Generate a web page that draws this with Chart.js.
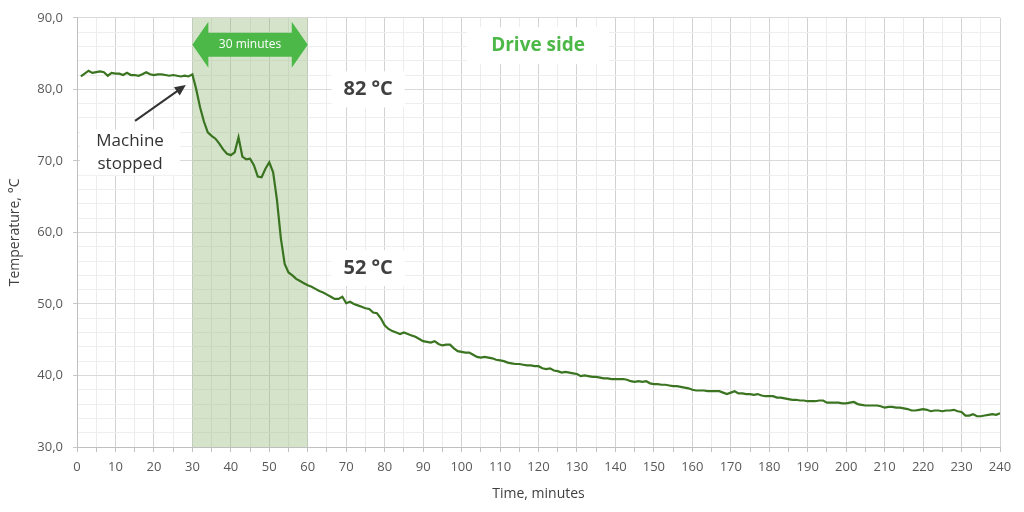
<!DOCTYPE html>
<html>
<head>
<meta charset="utf-8">
<script src="https://cdn.jsdelivr.net/npm/chart.js@4.4.1/dist/chart.umd.min.js"></script>
<style>
  html, body { margin: 0; padding: 0; background: #fff; }
  #c { display: block; }
</style>
</head>
<body>
<canvas id="c" width="1024" height="512"></canvas>
<script>
// minutes 1..240
const minutes = [];
for (let m = 1; m <= 240; m++) minutes.push(m);

// drive side temperature, °C
const temps = [
  81.8, 82.2, 82.6, 82.3, 82.4, 82.5, 82.4, 81.9, 82.3, 82.2,
  82.2, 82.0, 82.3, 82.0, 82.0, 81.9, 82.1, 82.4, 82.1, 82.0,
  82.1, 82.1, 82.0, 81.9, 82.0, 81.9, 81.8, 81.9, 81.8, 82.1,
  80.0, 77.5, 75.5, 74.0, 73.5, 73.1, 72.4, 71.6, 71.0, 70.8,
  71.2, 73.3, 70.6, 70.2, 70.3, 69.4, 67.8, 67.7, 68.9, 69.8,
  68.4, 64.5, 59.2, 55.6, 54.4, 54.0, 53.5, 53.2, 52.9, 52.6,
  52.4, 52.1, 51.8, 51.6, 51.3, 51.0, 50.7, 50.7, 51.0, 50.1,
  50.3, 50.0, 49.8, 49.6, 49.4, 49.3, 48.8, 48.7, 48.0, 47.0,
  46.5, 46.2, 46.0, 45.8, 46.0, 45.8, 45.6, 45.4, 45.1, 44.8,
  44.7, 44.6, 44.8, 44.4, 44.2, 44.3, 44.3, 43.8, 43.4, 43.3,
  43.2, 43.2, 42.9, 42.6, 42.5, 42.6, 42.5, 42.4, 42.2, 42.1,
  42.0, 41.8, 41.7, 41.6, 41.6, 41.5, 41.4, 41.4, 41.3, 41.3,
  41.0, 40.9, 41.0, 40.7, 40.6, 40.4, 40.5, 40.4, 40.3, 40.2,
  39.9, 40.0, 39.9, 39.8, 39.8, 39.7, 39.6, 39.6, 39.5, 39.5,
  39.5, 39.5, 39.4, 39.2, 39.1, 39.2, 39.1, 39.2, 38.9, 38.8,
  38.8, 38.7, 38.7, 38.6, 38.5, 38.5, 38.4, 38.3, 38.2, 38.0,
  37.9, 37.9, 37.9, 37.8, 37.8, 37.8, 37.8, 37.6, 37.4, 37.6,
  37.8, 37.5, 37.5, 37.4, 37.4, 37.3, 37.4, 37.2, 37.1, 37.1,
  37.1, 36.9, 36.9, 36.8, 36.7, 36.6, 36.6, 36.5, 36.5, 36.4,
  36.4, 36.4, 36.5, 36.5, 36.2, 36.2, 36.2, 36.2, 36.1, 36.1,
  36.2, 36.3, 36.0, 35.9, 35.8, 35.8, 35.8, 35.8, 35.7, 35.5,
  35.6, 35.6, 35.5, 35.5, 35.4, 35.3, 35.1, 35.1, 35.2, 35.3,
  35.2, 35.0, 35.1, 35.1, 35.0, 35.1, 35.1, 35.2, 35.0, 34.9,
  34.4, 34.4, 34.6, 34.3, 34.3, 34.4, 34.5, 34.6, 34.5, 34.7
];

// shaded window after the stop
const windowStart = 30;
const windowEnd = 60;

const FONT = '"Open Sans", "Noto Sans", sans-serif';
const lineGreen = '#3a7420';
const brightGreen = '#4cb848';
const darkText = '#404040';

function textBox(ctx, text, px, py, font, color, padX, padY) {
  ctx.font = font;
  const w = ctx.measureText(text).width;
  const h = parseInt(font.match(/(\d+)px/)[1], 10);
  ctx.fillStyle = '#fff';
  ctx.fillRect(px - w / 2 - padX, py - h / 2 - padY, w + padX * 2, h + padY * 2);
  ctx.fillStyle = color;
  ctx.textAlign = 'center';
  ctx.textBaseline = 'middle';
  ctx.fillText(text, px, py);
}

const shadePlugin = {
  id: 'shade',
  beforeDatasetsDraw(chart) {
    const { ctx, chartArea, scales } = chart;
    const x0 = scales.x.getPixelForValue(windowStart);
    const x1 = scales.x.getPixelForValue(windowEnd);
    ctx.save();
    ctx.fillStyle = 'rgba(150,185,125,0.4)';
    ctx.fillRect(x0, chartArea.top, x1 - x0, chartArea.bottom - chartArea.top);
    ctx.restore();
  }
};

const notesPlugin = {
  id: 'notes',
  afterDatasetsDraw(chart) {
    const { ctx, scales } = chart;
    const X = v => scales.x.getPixelForValue(v);
    const Y = v => scales.y.getPixelForValue(v);
    ctx.save();

    // double arrow "30 minutes"
    const ax0 = X(windowStart), ax1 = X(windowEnd), ay = Y(86.25);
    const head = 16, half = 23, shaft = 12;
    ctx.fillStyle = brightGreen;
    ctx.beginPath();
    ctx.moveTo(ax0, ay);
    ctx.lineTo(ax0 + head, ay - half);
    ctx.lineTo(ax0 + head, ay - shaft);
    ctx.lineTo(ax1 - head, ay - shaft);
    ctx.lineTo(ax1 - head, ay - half);
    ctx.lineTo(ax1, ay);
    ctx.lineTo(ax1 - head, ay + half);
    ctx.lineTo(ax1 - head, ay + shaft);
    ctx.lineTo(ax0 + head, ay + shaft);
    ctx.lineTo(ax0 + head, ay + half);
    ctx.closePath();
    ctx.fill();
    ctx.fillStyle = '#fff';
    ctx.font = '12px ' + FONT;
    ctx.textAlign = 'center';
    ctx.textBaseline = 'middle';
    ctx.fillText('30 minutes', (ax0 + ax1) / 2, ay);

    textBox(ctx, 'Drive side', X(119.9), Y(86.1), 'bold 19px ' + FONT, brightGreen, 24, 9);
    textBox(ctx, '82 °C', X(75.7), Y(80.0), 'bold 20px ' + FONT, darkText, 12, 8);
    textBox(ctx, '52 °C', X(75.7), Y(55.0), 'bold 20px ' + FONT, darkText, 12, 8);

    // "Machine stopped" with pointer
    const lx = X(13.8);
    ctx.fillStyle = '#fff';
    ctx.fillRect(lx - 50, Y(74.4), 100, Y(68.0) - Y(74.4));
    ctx.fillStyle = '#333';
    ctx.font = '17px ' + FONT;
    ctx.textAlign = 'center';
    ctx.textBaseline = 'middle';
    ctx.fillText('Machine', lx, Y(72.8));
    ctx.fillText('stopped', lx, Y(69.6));

    const sx = X(15.1), sy = Y(75.6), ex = X(28.3), ey = Y(80.6);
    const ang = Math.atan2(ey - sy, ex - sx);
    ctx.strokeStyle = '#333';
    ctx.lineWidth = 2;
    ctx.beginPath();
    ctx.moveTo(sx, sy);
    ctx.lineTo(ex - 8 * Math.cos(ang), ey - 8 * Math.sin(ang));
    ctx.stroke();
    ctx.fillStyle = '#333';
    ctx.beginPath();
    ctx.moveTo(ex, ey);
    ctx.lineTo(ex - 11 * Math.cos(ang) + 5 * Math.sin(ang), ey - 11 * Math.sin(ang) - 5 * Math.cos(ang));
    ctx.lineTo(ex - 11 * Math.cos(ang) - 5 * Math.sin(ang), ey - 11 * Math.sin(ang) + 5 * Math.cos(ang));
    ctx.closePath();
    ctx.fill();

    ctx.restore();
  }
};

new Chart(document.getElementById('c'), {
  type: 'line',
  data: {
    labels: minutes,
    datasets: [{
      label: 'Drive side',
      data: minutes.map((m, i) => ({ x: m, y: temps[i] })),
      borderColor: lineGreen,
      borderWidth: 2.2,
      pointRadius: 0,
      tension: 0,
      fill: false
    }]
  },
  options: {
    responsive: false,
    animation: false,
    devicePixelRatio: 1,
    layout: { padding: { left: 0, top: 15, right: 24, bottom: 0 } },
    plugins: {
      legend: { display: false },
      tooltip: { enabled: false }
    },
    scales: {
      x: {
        type: 'linear',
        min: 0,
        max: 240,
        afterFit(scale) { scale.height = 65; },
        grid: {
          color: c => (c.tick && c.tick.value % 10 === 0) ? '#d2d2d2' : '#ececec',
          tickColor: '#c0c0c0',
          tickLength: 5
        },
        border: { color: '#bfbfbf', width: 1 },
        ticks: {
          stepSize: 5,
          autoSkip: false,
          maxRotation: 0,
          padding: 7,
          color: '#595959',
          font: { family: FONT, size: 13 },
          callback: v => (v % 10 === 0 ? String(v) : '')
        },
        title: {
          display: true,
          text: 'Time, minutes',
          color: '#404040',
          font: { family: FONT, size: 14 },
          padding: { top: 0, bottom: 10 }
        }
      },
      y: {
        min: 30,
        max: 90,
        afterFit(scale) { scale.width = 77; },
        grid: {
          color: c => (c.tick && c.tick.value % 10 === 0) ? '#d9d9d9' : '#eeeeee',
          tickColor: c => (c.tick && c.tick.value % 10 === 0) ? '#c8c8c8' : 'rgba(0,0,0,0)',
          tickLength: 4
        },
        border: { color: '#bfbfbf', width: 1 },
        ticks: {
          stepSize: 2,
          autoSkip: false,
          padding: 10,
          color: '#595959',
          font: { family: FONT, size: 13 },
          callback: v => (v % 10 === 0 ? v.toFixed(1).replace('.', ',') : '')
        },
        title: {
          display: true,
          text: 'Temperature, °C',
          color: '#404040',
          font: { family: FONT, size: 14 },
          padding: { top: 7, bottom: 0 }
        }
      }
    }
  },
  plugins: [shadePlugin, notesPlugin]
});
</script>
</body>
</html>
